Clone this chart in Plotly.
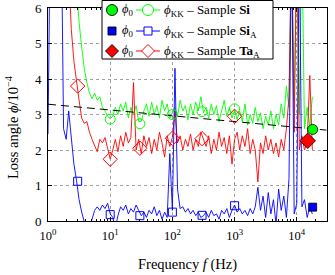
import plotly.graph_objects as go

# ---------------- data ----------------
freq = [1.00, 1.10, 1.21, 1.33, 1.47, 1.62, 1.78, 1.96, 2.15, 2.37, 2.61, 2.87,
        3.16, 3.48, 3.83, 4.22, 4.64, 5.11, 5.62, 6.19, 6.81, 7.50, 8.25, 9.09,
        10.0, 11.0, 12.1, 13.3, 14.7, 16.2, 17.8, 19.6, 21.5, 23.7, 26.1, 28.7,
        31.6, 34.8, 38.3, 42.2, 46.4, 51.1, 56.2, 61.9, 68.1, 75.0, 82.5, 90.9,
        100, 110, 121, 133, 147, 162, 178, 196, 215, 237, 261, 287,
        316, 348, 383, 422, 464, 511, 562, 619, 681, 750, 825, 909,
        1000, 1100, 1210, 1330, 1470, 1620, 1780, 1960, 2150, 2370, 2610, 2870,
        3160, 3480, 3830, 4220, 4640, 5110, 5620, 6190, 6810, 7500, 8250, 9090,
        10000, 11000, 12100, 13300, 14700, 16200, 17800]

phi_kk_si = [9, 9, 9, 9, 9, 9, 9, 9, 9, 9, 9, 6.6,
             5.6, 4.9, 4.3, 3.9, 3.6, 3.45, 3.6, 3.4, 3.5, 3.2, 3.1, 2.95,
             2.88, 2.95, 3.2, 3.0, 3.3, 3.1, 3.35, 2.9, 3.2, 3.0, 3.25, 2.8,
             2.8, 3.1, 3.3, 2.95, 3.35, 3.0, 3.25, 2.9, 3.4, 3.1, 3.3, 2.9,
             3.05, 3.2, 2.95, 3.4, 3.1, 3.25, 2.85, 3.3, 3.0, 3.35, 3.1, 3.5,
             3.05, 3.2, 2.9, 3.3, 3.0, 3.25, 2.8, 3.15, 3.4, 2.95, 3.2, 2.9,
             3.15, 2.85, 3.1, 2.8, 3.3, 2.7, 3.0, 2.75, 3.2, 2.8, 3.05, 2.6,
             2.95, 2.7, 3.1, 2.6, 3.0, 2.7, 3.3, 2.9, 3.8, 3.2, 8, 3.4,
             8, 3.0, 8, 2.6, 3.2, 2.7, 3.5, 2.8, 4.4, 3.0, 3.3]

phi_kk_ta = [9, 9, 9, 9, 9, 9, 9, 9, 7.0, 5.4, 4.5, 3.9,
             3.4, 2.9, 2.75, 2.8, 2.5, 2.3, 2.1, 1.95, 2.3, 2.2, 2.35, 2.0,
             1.75, 2.0, 2.3, 1.95, 2.4, 2.1, 2.5, 2.2, 2.35, 3.9, 2.0, 2.3,
             1.9, 2.4, 2.1, 2.35, 1.9, 2.3, 2.0, 2.5, 2.2, 1.8, 2.4, 2.1,
             2.35, 3.1, 2.2, 2.4, 2.0, 2.3, 2.1, 2.45, 2.0, 2.3, 2.1, 2.5,
             2.3, 2.1, 2.4, 1.9, 2.3, 2.0, 2.5, 2.1, 2.35, 1.9, 2.4, 1.6,
             2.3, 2.5, 2.0, 2.4, 2.1, 2.6, 1.9, 2.3, 2.0, 1.1, 2.2, 1.9,
             2.4, 2.0, 2.3, 1.9, 2.2, 1.8, 2.3, 2.0, 2.6, 3.5, 8, 2.5,
             8, 2.0, 2.4, 2.0, 2.2, 4.1, 2.0]

phi_kk_sia = [2.45, 9, 9, 9, 9, 9, 2.6, 2.3, 3.1, 2.3, 1.6, 1.15,
              0.6, 0.25, -0.1, -0.3, -0.2, 0.05, 0.3, 0.4, 0.3, 0.45, 0.35, 0.5,
              0.2, 0.1, -0.2, 0.15, 0.4, 0.3, 0.45, 0.2, 0.35, 0.25, 0.45, 0.3,
              0.15, 0.25, 0.1, 0.3, 0.2, 0.4, 0.15, 0.3, 0.05, 0.25, 0.1, 1.9,
              0.3, 4.3, 0.9, 0.35, 0.4, 0.25, 0.35, 0.2, 0.3, 0.15, 0.25, 0.1,
              0.15, 0.25, 0.1, 0.3, 0.15, 0.2, 0.05, 0.3, 0.2, 0.35, 0.1, 0.3,
              0.45, 0.25, 0.35, 0.2, 0.3, 0.15, 0.35, 0.2, 0.4, 0.95, 0.3, 0.7,
              0.1, 0.8, 0.2, 0.6, -0.1, 0.9, 0.3, 0.7, 0.1, 1.2, 8, 0.2,
              0.5, 8, 0.4, 0.6, 0.1, 0.4, 0.2]

# markers on the KK curves
mk_f = [3.0, 10, 30, 100, 300, 1000]
mk_si = [9, 2.87, 2.74, 3.0, 3.08, 3.16]
mk_ta = [3.8, 1.74, 2.05, 2.33, 2.32, 2.95]
mk_sia = [1.12, 0.18, 0.15, 0.25, 0.16, 0.43]

# ring-down phi_0 values
phi0_f_si, phi0_si = [18000], [2.58]
phi0_f_sia, phi0_sia = [18000], [0.39]
phi0_f_ta, phi0_ta = [15000], [2.26]

# fit line
fit_f = [1, 30000]
fit_phi = [3.29, 2.56]

xtick_vals = [1, 10, 100, 1000, 10000]
xtick_text = ["10<sup>0</sup>", "10<sup>1</sup>", "10<sup>2</sup>", "10<sup>3</sup>", "10<sup>4</sup>"]
ytick_vals = [0, 1, 2, 3, 4, 5, 6]

GREEN = "#00ff00"
BLUE = "#0000ff"
RED = "#ff0000"
FONT = "Liberation Serif"

fig = go.Figure()

for y, c in [(phi_kk_si, GREEN), (phi_kk_ta, RED), (phi_kk_sia, BLUE)]:
    fig.add_trace(go.Scatter(x=freq, y=y, mode="lines",
                             line=dict(color=c, width=0.9), showlegend=False))

fig.add_trace(go.Scatter(x=fit_f, y=fit_phi, mode="lines",
                         line=dict(color="black", width=1, dash="8px,5px"),
                         showlegend=False))

fig.add_trace(go.Scatter(x=mk_f, y=mk_si, mode="markers", showlegend=False,
                         marker=dict(symbol="circle-open", size=10, color=GREEN, line=dict(width=1))))
fig.add_trace(go.Scatter(x=mk_f, y=mk_ta, mode="markers", showlegend=False,
                         marker=dict(symbol="diamond-open", size=11, color=RED, line=dict(width=1))))
fig.add_trace(go.Scatter(x=mk_f, y=mk_sia, mode="markers", showlegend=False,
                         marker=dict(symbol="square-open", size=8, color=BLUE, line=dict(width=1))))

fig.add_trace(go.Scatter(x=phi0_f_si, y=phi0_si, mode="markers", showlegend=False, cliponaxis=False,
                         marker=dict(symbol="circle", size=10, color=GREEN, line=dict(color="black", width=0.8))))
fig.add_trace(go.Scatter(x=phi0_f_ta, y=phi0_ta, mode="markers", showlegend=False, cliponaxis=False,
                         marker=dict(symbol="diamond", size=12, color=RED, line=dict(color="black", width=0.8))))
fig.add_trace(go.Scatter(x=phi0_f_sia, y=phi0_sia, mode="markers", showlegend=False, cliponaxis=False,
                         marker=dict(symbol="square", size=8, color=BLUE, line=dict(color="black", width=0.8))))

# ---------------- layout ----------------
W, H = 335, 275
L, R, T, B = 48, 8, 8, 54
PW, PH = W - L - R, H - T - B


def px(x):
    return (x - L) / PW


def py(y):
    return (H - B - y) / PH


fig.update_layout(
    width=W, height=H, margin=dict(l=L, r=R, t=T, b=B, autoexpand=False),
    paper_bgcolor="white", plot_bgcolor="white",
    font=dict(family=FONT, size=12, color="black"),
    showlegend=False,
    xaxis=dict(type="log", range=[0, 4.486], tickvals=xtick_vals, ticktext=xtick_text,
               automargin=False, ticklabelstandoff=3,
               ticks="inside", ticklen=4, tickcolor="black", showline=True, linecolor="black",
               linewidth=1, mirror="ticks", showgrid=True, gridcolor="#a0a0a0", griddash="dot",
               gridwidth=1, zeroline=False, tickfont=dict(size=12.5),
               minor=dict(ticks="inside", ticklen=2, tickcolor="black", showgrid=False,
                          tickvals=[m * 10 ** d for d in range(5) for m in range(2, 10)])),
    yaxis=dict(range=[0, 6], tickvals=ytick_vals, ticks="inside", ticklen=4, tickcolor="black",
               automargin=False, ticklabelstandoff=3,
               showline=True, linecolor="black", linewidth=1, mirror="ticks", showgrid=True,
               gridcolor="#a0a0a0", griddash="dot", gridwidth=1, zeroline=False,
               tickfont=dict(size=13)),
)

ann = []
ann.append(dict(text="Frequency <i>f</i> (Hz)", x=px(187), y=py(264), xref="paper", yref="paper",
                showarrow=False, font=dict(size=14.5), xanchor="center", yanchor="middle"))
ann.append(dict(text="Loss angle <i>ϕ</i>/10<sup>−4</sup>", x=px(12), y=py(128), xref="paper",
                yref="paper", showarrow=False, font=dict(size=14.5), textangle=-90,
                xanchor="center", yanchor="middle"))

shapes = []
# legend box
shapes.append(dict(type="rect", xref="paper", yref="paper", x0=px(102), x1=px(273),
                   y0=py(59), y1=py(0.5), fillcolor="white", line=dict(color="black", width=1),
                   layer="above"))

rows = [
    (10, GREEN, "circle", "<i>ϕ</i><sub>KK</sub> – Sample <b>Si</b>"),
    (31, BLUE, "square", "<i>ϕ</i><sub>KK</sub> – Sample <b>Si</b><sub>A</sub>"),
    (51, RED, "diamond", "<i>ϕ</i><sub>KK</sub> – Sample <b>Ta</b><sub>A</sub>"),
]


def marker_shape(cx, cy, kind, color, filled):
    base = dict(xref="paper", yref="paper", xsizemode="pixel", ysizemode="pixel",
                xanchor=px(cx), yanchor=py(cy), layer="above",
                fillcolor=color if filled else "white",
                line=dict(color="black" if filled else color, width=0.9 if filled else 1))
    if kind == "circle":
        r = 5.5
        base.update(type="circle", x0=-r, x1=r, y0=-r, y1=r)
    elif kind == "square":
        r = 4
        base.update(type="rect", x0=-r, x1=r, y0=-r, y1=r)
    else:
        r = 6.5
        base.update(type="path", path=f"M {-r} 0 L 0 {r} L {r} 0 L 0 {-r} Z")
    return base


for ry, col, kind, label in rows:
    shapes.append(marker_shape(112, ry, kind, col, True))
    ann.append(dict(text="<i>ϕ</i><sub>0</sub>", x=px(120), y=py(ry), xref="paper", yref="paper",
                    showarrow=False, xanchor="left", yanchor="middle", font=dict(size=12.5)))
    shapes.append(dict(type="line", xref="paper", yref="paper", x0=px(136), x1=px(160),
                       y0=py(ry), y1=py(ry), line=dict(color=col, width=1), layer="above"))
    shapes.append(marker_shape(148, ry, kind, col, False))
    ann.append(dict(text=label, x=px(162), y=py(ry), xref="paper", yref="paper",
                    showarrow=False, xanchor="left", yanchor="middle", font=dict(size=13)))

fig.update_layout(annotations=ann, shapes=shapes)
fig.write_html("out.html", config={"displayModeBar": False},
               post_script="document.body.style.margin='0';document.body.style.padding='0';")
